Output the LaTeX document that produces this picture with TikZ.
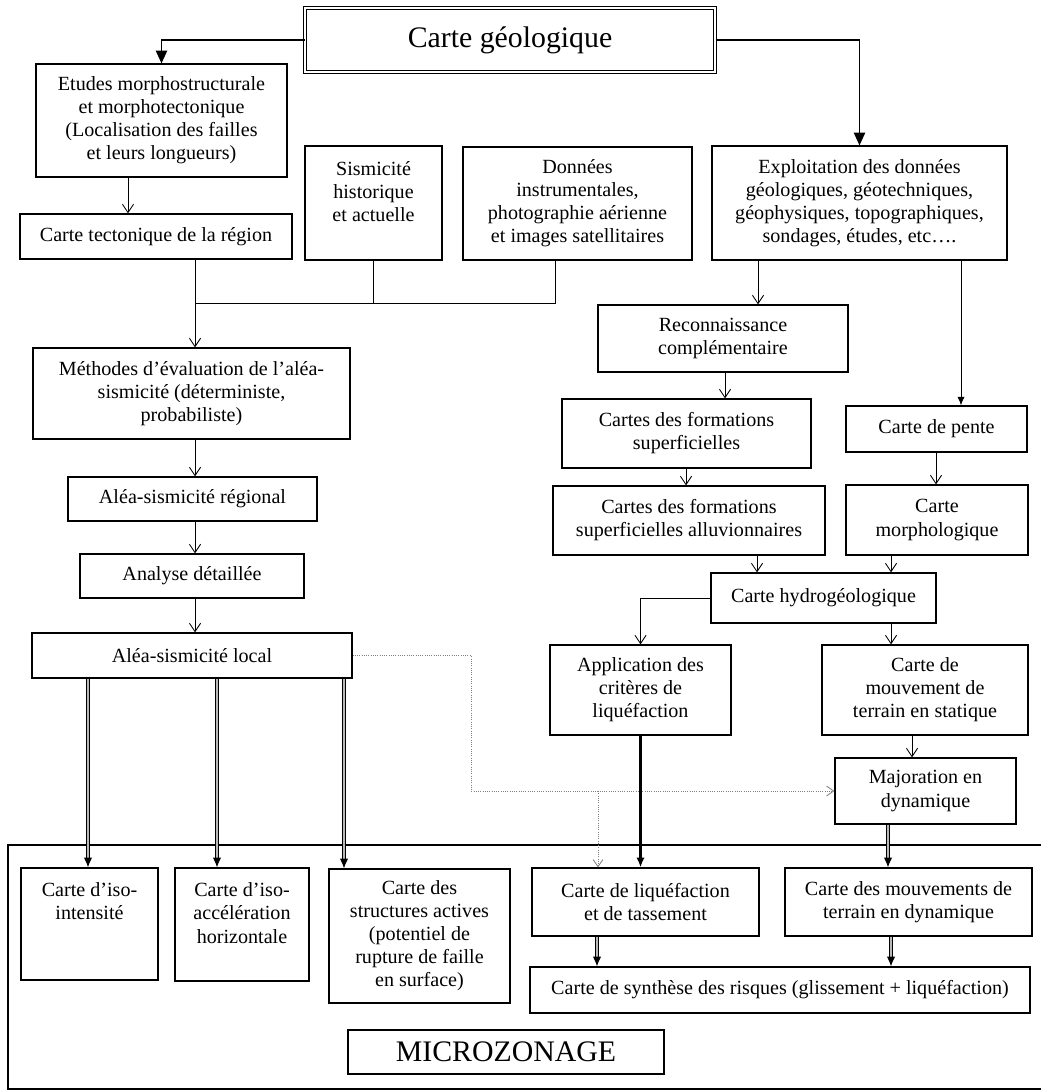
\documentclass[tikz,border=0pt]{standalone}
\usepackage{fontspec}
\setmainfont{Liberation Serif}
\usetikzlibrary{arrows.meta,positioning}

\tikzset{
  box/.style 2 args={draw, line width=0.9pt, align=center, inner sep=0pt,
    minimum width=#1*0.025cm, minimum height=#2*0.025cm,
    font=\fontsize{14.3}{16.4}\selectfont},
  grand/.style={font=\fontsize{21.2}{25}\selectfont},
  arr/.style={line width=0.6pt, -{Straight Barb[length=6pt,width=8pt]}},
  big/.style={line width=1pt, -{Triangle[length=9pt,width=8pt]}},
  fin/.style={line width=0.6pt, -{Latex[length=6pt,width=5pt]}},
  epais/.style={line width=1.8pt, -{Latex[length=7pt,width=6pt]}},
  dbl/.style={line width=0.7pt, double=gray!55, double distance=1.2pt,
    -{Latex[length=7pt,width=6pt]}},
  pointille/.style={densely dotted, gray, line width=0.6pt,
    -{Straight Barb[length=5pt,width=7pt]}},
  cadre/.style={line width=1.6pt}
}

\begin{document}
\begin{tikzpicture}[x=0.025cm, y=-0.025cm]
  \useasboundingbox (0,0) rectangle (1041,1092);

  % en-tete
  \node[box={410}{64}, grand, double, double distance=1.8pt, line width=0.7pt] (titre) at (510,40) {Carte géologique};

  % colonne gauche
  \node[box={251}{113}] (etudes) at (161.5,120.5) {Etudes morphostructurale\\et morphotectonique\\(Localisation des failles\\et leurs longueurs)};
  \node[box={272}{45}] (tecto) at (156,236.5) {Carte tectonique de la région};
  \node[box={137}{114}] (sism) at (373.5,203) {Sismicité\\historique\\et actuelle\\~};
  \node[box={229}{113}] (donnees) at (577.5,203.5) {Données\\instrumentales,\\photographie aérienne\\et images satellitaires};
  \node[box={317}{91}] (methodes) at (191.5,393.5) {Méthodes d'évaluation de l'aléa-\\sismicité (déterministe,\\probabiliste)};
  \node[box={249}{44}] (regional) at (192.5,499) {Aléa-sismicité régional};
  \node[box={224}{44}] (analyse) at (192,576) {Analyse détaillée};
  \node[box={320}{45}] (local) at (192,655.5) {Aléa-sismicité local};

  % colonne droite
  \node[box={295}{114}] (exploit) at (859.5,203) {Exploitation des données\\géologiques, géotechniques,\\géophysiques, topographiques,\\sondages, études, etc\ldots.};
  \node[box={250}{67}] (recon) at (723,338.5) {Reconnaissance\\complémentaire};
  \node[box={249}{69}] (formsup) at (686.5,433.5) {Cartes des formations\\superficielles};
  \node[box={272}{69}] (alluv) at (689,520.5) {Cartes des formations\\superficielles alluvionnaires};
  \node[box={181}{46}] (pente) at (936.5,429) {Carte de pente};
  \node[box={182}{70}] (morpho) at (937,520) {Carte\\morphologique};
  \node[box={225}{50}] (hydro) at (823.5,598) {Carte hydrogéologique};
  \node[box={181}{90}] (applic) at (640.5,690) {Application des\\critères de\\liquéfaction};
  \node[box={206}{90}] (statique) at (925,690) {Carte de\\mouvement de\\terrain en statique};
  \node[box={181}{66}] (major) at (925.5,791) {Majoration en\\dynamique};

  % microzonage
  \draw[cadre] (1041,845) -- (8,845) -- (8,1089) -- (1041,1089);
  \node[box={137}{112}] (isoint) at (89.5,924) {Carte d'iso-\\intensité\\[0.55cm]~};
  \node[box={134}{113}] (isoacc) at (242,924.5) {Carte d'iso-\\accélération\\horizontale\\~};
  \node[box={181}{134}] (struct) at (419.5,936) {Carte des\\structures actives\\(potentiel de\\rupture de faille\\en surface)};
  \node[box={227}{68}] (liquef) at (645.5,902) {Carte de liquéfaction\\et de tassement};
  \node[box={247}{68}] (mouvdyn) at (908.5,902) {Carte des mouvements de\\terrain en dynamique};
  \node[box={500}{46}] (synth) at (780,990) {Carte de synthèse des risques (glissement + liquéfaction)};
  \node[box={316}{44}, grand] (micro) at (506,1052) {MICROZONAGE};

  % liaisons
  \draw[big] (titre.west) -| (etudes.north);
  \draw[big] (titre.east) -| (exploit.north);
  \draw[arr] (etudes.south -| 128,0) -- (tecto.north -| 128,0);

  \coordinate (jonc) at (195,303);
  \draw[line width=0.6pt] (tecto.south -| jonc) -- (jonc) -- (jonc -| 555,0) -- (donnees.south -| 555,0);
  \draw[line width=0.6pt] (sism.south) -- (sism.south |- jonc);
  \draw[arr] (jonc) -- (methodes.north -| jonc);
  \draw[arr] (methodes.south -| jonc) -- (regional.north -| jonc);
  \draw[arr] (regional.south -| jonc) -- (analyse.north -| jonc);
  \draw[arr] (analyse.south -| jonc) -- (local.north -| jonc);
  \foreach \x/\cible in {88/isoint, 217/isoacc, 344/struct}
    \draw[dbl] (local.south -| \x,0) -- (\cible.north -| \x,0);

  \coordinate (bifurc) at (598,791);
  \draw[pointille] (local.east) -- (471,655.5) |- (major.west);
  \draw[pointille] (bifurc) -- (liquef.north -| bifurc);

  \draw[arr] (exploit.south -| 758,0) -- (recon.north -| 758,0);
  \draw[fin] (exploit.south -| 961,0) -- (pente.north -| 961,0);
  \draw[arr] (recon.south -| 725,0) -- (formsup.north -| 725,0);
  \draw[arr] (formsup.south -| 686,0) -- (alluv.north -| 686,0);
  \draw[arr] (pente.south -| 936,0) -- (morpho.north -| 936,0);
  \draw[arr] (alluv.south -| 757,0) -- (hydro.north -| 757,0);
  \draw[arr] (morpho.south -| 891,0) -- (hydro.north -| 891,0);
  \draw[arr] (hydro.west) -| (applic.north);
  \draw[arr] (hydro.south -| 891,0) -- (statique.north -| 891,0);
  \draw[arr] (statique.south -| 912,0) -- (major.north -| 912,0);
  \draw[epais] (applic.south) -- (liquef.north -| applic.south);
  \draw[dbl] (major.south -| 888,0) -- (mouvdyn.north -| 888,0);
  \draw[dbl] (liquef.south -| 597,0) -- (synth.north -| 597,0);
  \draw[dbl] (mouvdyn.south -| 891,0) -- (synth.north -| 891,0);
\end{tikzpicture}
\end{document}
